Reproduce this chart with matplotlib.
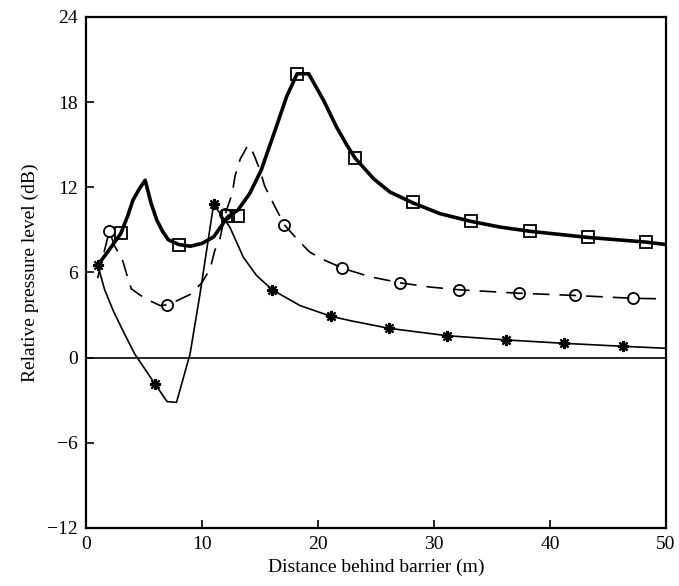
import numpy as np
import matplotlib
matplotlib.use('Agg')
import matplotlib.pyplot as plt

plt.rcParams['font.family'] = ['Liberation Serif', 'DejaVu Serif']

# thick solid curve (squares)
sq_line_x = [1.0, 2.0, 3.0, 3.6, 4.05, 4.6, 5.1, 5.6, 6.1, 6.6, 7.1, 8.0, 9.0,
             10.0, 11.0, 12.2, 13.1, 14.1, 15.1, 16.4, 17.3, 18.2, 19.2, 20.5,
             21.6, 22.5, 23.2, 24.8, 26.2, 28.2, 30.5, 33.2, 35.7, 38.3, 43.3,
             48.3, 50.0]
sq_line_y = [6.5, 7.6, 8.75, 10.0, 11.1, 11.9, 12.5, 10.9, 9.7, 8.9, 8.3, 7.97,
             7.85, 8.05, 8.5, 9.9, 10.4, 11.55, 13.2, 16.25, 18.4, 20.0, 20.0,
             18.1, 16.25, 14.96, 14.06, 12.6, 11.67, 10.9, 10.15, 9.6, 9.2, 8.9,
             8.47, 8.14, 7.97]
sq_x = [3.0, 8.0, 12.2, 13.1, 18.2, 23.2, 28.2, 33.2, 38.3, 43.3, 48.3]
sq_y = [8.75, 7.97, 10.0, 10.0, 20.0, 14.06, 10.96, 9.6, 8.9, 8.47, 8.14]

# dashed curve (circles)
ci_line_x = [1.0, 2.0, 2.5, 3.1, 3.5, 3.9, 5.1, 6.4, 7.0, 7.8, 9.1, 10.0, 10.7,
             11.1, 11.55, 12.0, 12.6, 12.85, 13.3, 13.85, 14.1, 14.5, 15.0,
             15.4, 16.0, 17.1, 18.3, 19.3, 20.6, 21.6, 22.1, 24.5, 27.1, 29.6,
             32.2, 37.3, 42.2, 47.2, 50.0]
ci_line_y = [5.6, 8.9, 7.8, 7.0, 5.9, 4.85, 4.16, 3.67, 3.72, 4.0, 4.5, 5.3, 6.26,
             7.55, 8.4, 10.1, 11.55, 12.8, 14.0, 14.8, 14.96, 14.25, 13.2,
             12.1, 11.1, 9.36, 8.26, 7.43, 6.85, 6.5, 6.3, 5.7, 5.27, 4.98,
             4.78, 4.54, 4.38, 4.18, 4.14]
ci_x = [2.0, 7.0, 12.0, 17.1, 22.1, 27.1, 32.2, 37.3, 42.2, 47.2]
ci_y = [8.9, 3.72, 10.1, 9.36, 6.3, 5.27, 4.78, 4.54, 4.38, 4.18]

# thin solid curve (asterisks)
st_line_x = [1.0, 1.6, 2.35, 3.3, 4.2, 5.95, 7.0, 7.8, 8.97, 9.83, 11.0, 12.4,
             13.56, 14.7, 16.06, 18.45, 21.1, 22.76, 26.1, 31.1, 36.2, 41.2,
             46.3, 50.0]
st_line_y = [6.56, 4.8, 3.3, 1.7, 0.26, -1.86, -3.1, -3.15, 0.26, 4.5, 10.8, 9.2,
             7.08, 5.79, 4.78, 3.67, 2.92, 2.61, 2.07, 1.55, 1.25, 1.01, 0.8,
             0.66]
st_x = [1.0, 5.95, 11.0, 16.06, 21.1, 26.1, 31.1, 36.2, 41.2, 46.3]
st_y = [6.56, -1.86, 10.8, 4.78, 2.92, 2.07, 1.55, 1.25, 1.01, 0.8]

fig = plt.figure(figsize=(6.79, 5.86), dpi=100)
ax = fig.add_axes([0.1267, 0.099, 0.854, 0.872])

ax.axhline(0, color='black', lw=1.2)

ax.plot(st_line_x, st_line_y, color='black', lw=1.2)
ax.plot(st_x, st_y, linestyle='None', marker=(8, 2, 0), ms=8, mew=1.6, color='black')

ax.plot(ci_line_x, ci_line_y, color='black', lw=1.2, dashes=(10, 6))
ax.plot(ci_x, ci_y, linestyle='None', marker='o', ms=8, mew=1.3,
        mfc='none', mec='black')

ax.plot(sq_line_x, sq_line_y, color='black', lw=2.6)
ax.plot(sq_x, sq_y, linestyle='None', marker='s', ms=8.5, mew=1.3,
        mfc='none', mec='black')

ax.set_xlim(0, 50)
ax.set_ylim(-12, 24)
ax.set_xticks([0, 10, 20, 30, 40, 50])
ax.set_yticks([-12, -6, 0, 6, 12, 18, 24])
ax.set_yticklabels(['\u221212', '\u22126', '0', '6', '12', '18', '24'])
ax.tick_params(direction='in', length=6, width=1.2, labelsize=14, pad=6)
for s in ax.spines.values():
    s.set_linewidth(1.6)

ax.set_xlabel('Distance behind barrier (m)', fontsize=14, labelpad=4)
ax.set_ylabel('Relative pressure level (dB)', fontsize=14, labelpad=6)

fig.savefig('out.png', dpi=100)
